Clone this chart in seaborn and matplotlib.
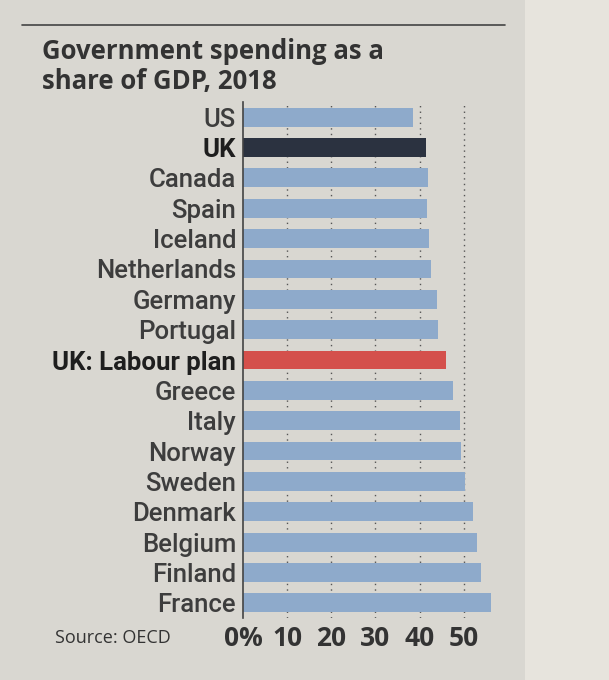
import matplotlib
matplotlib.use("Agg")
import matplotlib.pyplot as plt
import seaborn as sns
import pandas as pd
from matplotlib.lines import Line2D
from matplotlib.patches import Rectangle

countries = ["US", "UK", "Canada", "Spain", "Iceland", "Netherlands", "Germany",
             "Portugal", "UK: Labour plan", "Greece", "Italy", "Norway", "Sweden",
             "Denmark", "Belgium", "Finland", "France"]
spending = [38.6, 41.4, 41.9, 41.8, 42.1, 42.5, 44.0, 44.2, 46.0, 47.5, 49.2,
            49.4, 50.4, 52.1, 53.0, 54.0, 56.3]
x_ticks = [0, 10, 20, 30, 40, 50]
x_tick_labels = ["0%", "10", "20", "30", "40", "50"]

df = pd.DataFrame({"country": countries, "spending": spending})

paper = "#d9d7d1"
blue = "#8eaacb"
colors = {c: blue for c in countries}
colors["UK"] = "#2b3240"
colors["UK: Labour plan"] = "#d4504c"

sns.set_style("white")
plt.rcParams["font.family"] = ["Roboto", "DejaVu Sans"]

fig = plt.figure(figsize=(6.09, 6.8), dpi=100)
fig.patch.set_facecolor(paper)
fig.patches.append(Rectangle((525 / 609, 0), 1, 1, transform=fig.transFigure,
                             facecolor="#e7e4dd", edgecolor="none", zorder=0))
ax = fig.add_axes([243 / 609, 62 / 680, 256 / 609, 516 / 680])
ax.set_facecolor(paper)

sns.barplot(data=df, x="spending", y="country", hue="country", palette=colors,
            order=countries, width=0.62, saturation=1, legend=False, ax=ax,
            linewidth=0, edgecolor="none", zorder=2)

ax.set_xlim(0, 58)
ax.set_xticks(x_ticks)
ax.set_xticklabels(x_tick_labels, fontsize=19, fontweight="bold", color="#333333",
                   family=["Open Sans", "DejaVu Sans"])
for x in x_ticks[1:]:
    ax.axvline(x, color="#555555", linestyle=(0, (1, 3)), linewidth=1.0, zorder=1)

ax.set_xlabel("")
ax.set_ylabel("")
for s in ["top", "right", "bottom"]:
    ax.spines[s].set_visible(False)
ax.spines["left"].set_color("#444444")
ax.spines["left"].set_linewidth(1.2)
ax.tick_params(axis="x", length=4, width=1, color="#444444", pad=1)
ax.tick_params(axis="y", length=0, pad=5)

for lbl in ax.get_yticklabels():
    lbl.set_fontsize(18.5)
    if lbl.get_text() in ("UK", "UK: Labour plan"):
        lbl.set_fontweight("bold")
        lbl.set_color("#1e1e1e")
    else:
        lbl.set_fontweight("medium")
        lbl.set_color("#3d3d3d")

fig.add_artist(Line2D([22 / 609, 505 / 609], [655 / 680, 655 / 680],
                      transform=fig.transFigure, color="#444444", linewidth=1.2))
fig.text(42 / 609, 642 / 680, "Government spending as a\nshare of GDP, 2018",
         fontsize=18.5, fontweight="bold", color="#333333", va="top",
         linespacing=1.15, family=["Open Sans", "DejaVu Sans"])
fig.text(55 / 609, 42 / 680, "Source: OECD", fontsize=13, color="#333333",
         va="center", family=["Open Sans", "DejaVu Sans"])

fig.savefig("out.png", dpi=100, facecolor=fig.get_facecolor())
